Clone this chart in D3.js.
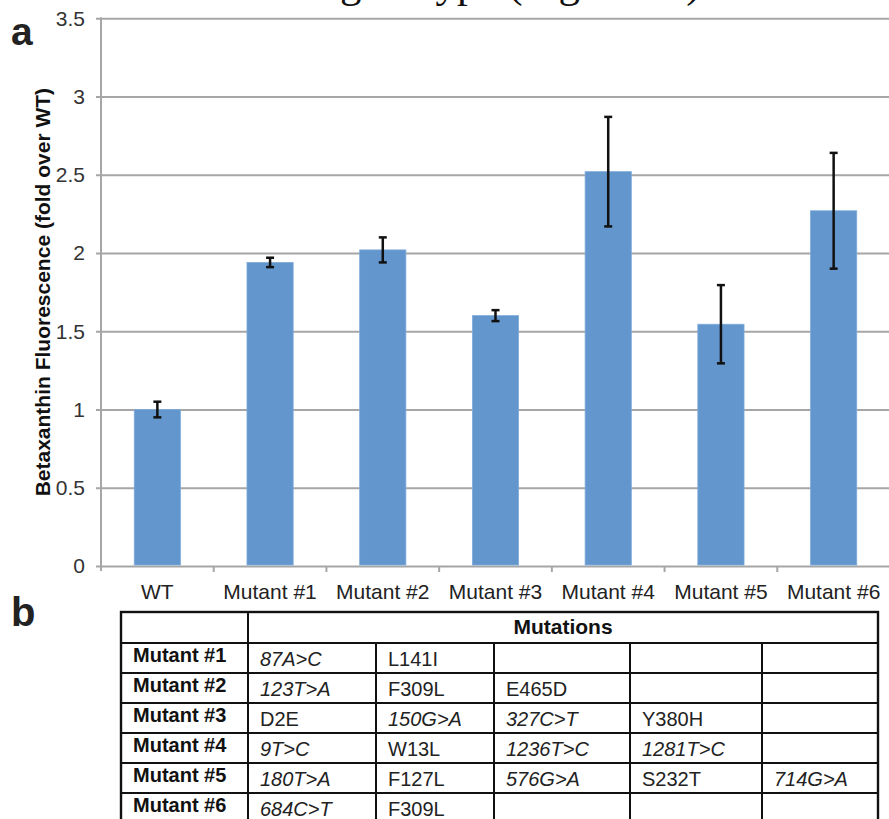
<!DOCTYPE html>
<html>
<head>
<meta charset="utf-8">
<script src="https://cdn.jsdelivr.net/npm/d3@7"></script>
<style>
  html, body { margin: 0; padding: 0; background: #fff; }
  svg { display: block; }
</style>
</head>
<body>
<div id="chart"></div>
<script>
// ── Data ────────────────────────────────────────────────────
const categories = ['WT', 'Mutant #1', 'Mutant #2', 'Mutant #3', 'Mutant #4', 'Mutant #5', 'Mutant #6'];
const values = [1.0, 1.94, 2.02, 1.60, 2.52, 1.545, 2.27];
const errors = [0.05, 0.03, 0.08, 0.035, 0.35, 0.25, 0.37];
const yTicks = [0, 0.5, 1, 1.5, 2, 2.5, 3, 3.5];

const mutantNames = ['Mutant #1', 'Mutant #2', 'Mutant #3', 'Mutant #4', 'Mutant #5', 'Mutant #6'];
const mutations = [
  ['87A>C', 'L141I'],
  ['123T>A', 'F309L', 'E465D'],
  ['D2E', '150G>A', '327C>T', 'Y380H'],
  ['9T>C', 'W13L', '1236T>C', '1281T>C'],
  ['180T>A', 'F127L', '576G>A', 'S232T', '714G>A'],
  ['684C>T', 'F309L']
];

// ── Layout ──────────────────────────────────────────────────
const W = 889, H = 819;
const FONT = "'Liberation Sans', Arial, Helvetica, sans-serif";
const GRID = '#a6a6a6';
const BAR = '#6296cc';

const svg = d3.select('#chart').append('svg')
  .attr('width', W)
  .attr('height', H);

svg.append('rect').attr('width', W).attr('height', H).attr('fill', '#fff');

// title above the panel, clipped by the top edge (only descenders show)
svg.append('text')
  .attr('x', 205)
  .attr('y', -3)
  .attr('font-family', "'Liberation Serif', 'Times New Roman', serif")
  .attr('font-size', '43px')
  .attr('fill', '#111')
  .text('Mutant genotype (Figure 1a)');

// ── Panel a: bar chart ──────────────────────────────────────
const y = d3.scaleLinear().domain([0, 3.5]).range([566, 18.3]);
const x = d3.scaleBand().domain(categories).range([101, 890]).padding(0);
const barW = x.bandwidth() * 0.41;

// gridlines + y tick labels
const yAxis = d3.axisLeft(y).tickValues(yTicks).tickSize(-(W - 101)).tickPadding(16)
  .tickFormat(d3.format('~g'));

const yg = svg.append('g')
  .attr('transform', 'translate(101,0)')
  .call(yAxis);
yg.select('.domain').remove();
yg.selectAll('.tick line')
  .attr('x1', -5)
  .attr('stroke', GRID)
  .attr('stroke-width', 2);
yg.selectAll('.tick text')
  .attr('font-family', FONT)
  .attr('font-size', '21px')
  .attr('fill', '#333');

// vertical axis line
svg.append('line')
  .attr('x1', 101).attr('x2', 101)
  .attr('y1', y(3.5) - 1).attr('y2', 571)
  .attr('stroke', GRID)
  .attr('stroke-width', 2);

// x ticks at band boundaries
svg.append('g').selectAll('line')
  .data(categories.slice(1))
  .join('line')
  .attr('x1', d => x(d)).attr('x2', d => x(d))
  .attr('y1', y(0)).attr('y2', 572)
  .attr('stroke', GRID)
  .attr('stroke-width', 2);

// x labels
svg.append('g').selectAll('text')
  .data(categories)
  .join('text')
  .attr('x', d => x(d) + x.bandwidth() / 2)
  .attr('y', 599)
  .attr('text-anchor', 'middle')
  .attr('font-family', FONT)
  .attr('font-size', '21px')
  .attr('fill', '#222')
  .text(d => d);

// bars
const rows = categories.map((c, i) => ({ c, v: values[i], e: errors[i] }));

svg.append('g').selectAll('rect')
  .data(rows)
  .join('rect')
  .attr('x', d => x(d.c) + (x.bandwidth() - barW) / 2)
  .attr('y', d => y(d.v))
  .attr('width', barW)
  .attr('height', d => y(0) - y(d.v) - 1)
  .attr('fill', BAR)
  .attr('stroke', '#7fabdb')
  .attr('stroke-width', 0.8);

// error bars
const eb = svg.append('g')
  .attr('stroke', '#111')
  .attr('stroke-width', 2.5)
  .selectAll('g')
  .data(rows)
  .join('g')
  .attr('transform', d => `translate(${x(d.c) + x.bandwidth() / 2},0)`);

eb.append('line')
  .attr('y1', d => y(d.v + d.e))
  .attr('y2', d => y(d.v - d.e));
eb.append('line')
  .attr('x1', -4).attr('x2', 4)
  .attr('y1', d => y(d.v + d.e)).attr('y2', d => y(d.v + d.e));
eb.append('line')
  .attr('x1', -4).attr('x2', 4)
  .attr('y1', d => y(d.v - d.e)).attr('y2', d => y(d.v - d.e));

// y axis title
svg.append('text')
  .attr('transform', `translate(50,${(y(0) + y(3.5)) / 2}) rotate(-90)`)
  .attr('text-anchor', 'middle')
  .attr('font-family', FONT)
  .attr('font-size', '21px')
  .attr('font-weight', 'bold')
  .attr('fill', '#111')
  .text('Betaxanthin Fluorescence (fold over WT)');

// panel letters
svg.append('text')
  .attr('x', 11).attr('y', 45)
  .attr('font-family', FONT).attr('font-size', '39px').attr('font-weight', 'bold')
  .attr('fill', '#222')
  .text('a');
svg.append('text')
  .attr('x', 11).attr('y', 626)
  .attr('font-family', FONT).attr('font-size', '40px').attr('font-weight', 'bold')
  .attr('fill', '#222')
  .text('b');

// ── Panel b: mutation table ─────────────────────────────────
const colX = [121, 248, 376, 494, 630, 762, 878];
const headerTop = 612, headerBottom = 643, rowH = 30;
const rowY = i => headerBottom + i * rowH;

const tbl = svg.append('g');
const lineColor = '#111';

// horizontal lines
tbl.selectAll('line.h')
  .data(d3.range(mutantNames.length + 1))
  .join('line')
  .attr('class', 'h')
  .attr('x1', colX[0]).attr('x2', colX[colX.length - 1])
  .attr('y1', i => rowY(i)).attr('y2', i => rowY(i))
  .attr('stroke', lineColor).attr('stroke-width', 2);

// vertical lines (inner ones start below the merged header)
tbl.selectAll('line.v')
  .data(colX)
  .join('line')
  .attr('class', 'v')
  .attr('x1', d => d).attr('x2', d => d)
  .attr('y1', (d, i) => (i <= 1 || i === colX.length - 1) ? headerTop : headerBottom)
  .attr('y2', rowY(mutantNames.length))
  .attr('stroke', lineColor).attr('stroke-width', 2);

// outer border
tbl.append('rect')
  .attr('x', colX[0]).attr('y', headerTop)
  .attr('width', colX[colX.length - 1] - colX[0])
  .attr('height', rowY(mutantNames.length) - headerTop)
  .attr('fill', 'none')
  .attr('stroke', lineColor).attr('stroke-width', 2.4);

tbl.append('text')
  .attr('x', (colX[1] + colX[colX.length - 1]) / 2)
  .attr('y', 634)
  .attr('text-anchor', 'middle')
  .attr('font-family', FONT).attr('font-size', '21px').attr('font-weight', 'bold')
  .attr('fill', '#111')
  .text('Mutations');

tbl.selectAll('text.label')
  .data(mutantNames)
  .join('text')
  .attr('class', 'label')
  .attr('x', colX[0] + 12)
  .attr('y', (d, i) => rowY(i) + 18.5)
  .attr('font-family', FONT).attr('font-size', '20px').attr('font-weight', 'bold')
  .attr('fill', '#111')
  .text(d => d);

const cells = mutations.flatMap((list, r) => list.map((m, c) => ({ m, r, c })));

tbl.selectAll('text.cell')
  .data(cells)
  .join('text')
  .attr('class', 'cell')
  .attr('x', d => colX[d.c + 1] + 12)
  .attr('y', d => rowY(d.r) + 22.5)
  .attr('font-family', FONT).attr('font-size', '20px')
  .attr('font-style', d => d.m.includes('>') ? 'italic' : 'normal')
  .attr('fill', '#222')
  .text(d => d.m);
</script>
</body>
</html>
